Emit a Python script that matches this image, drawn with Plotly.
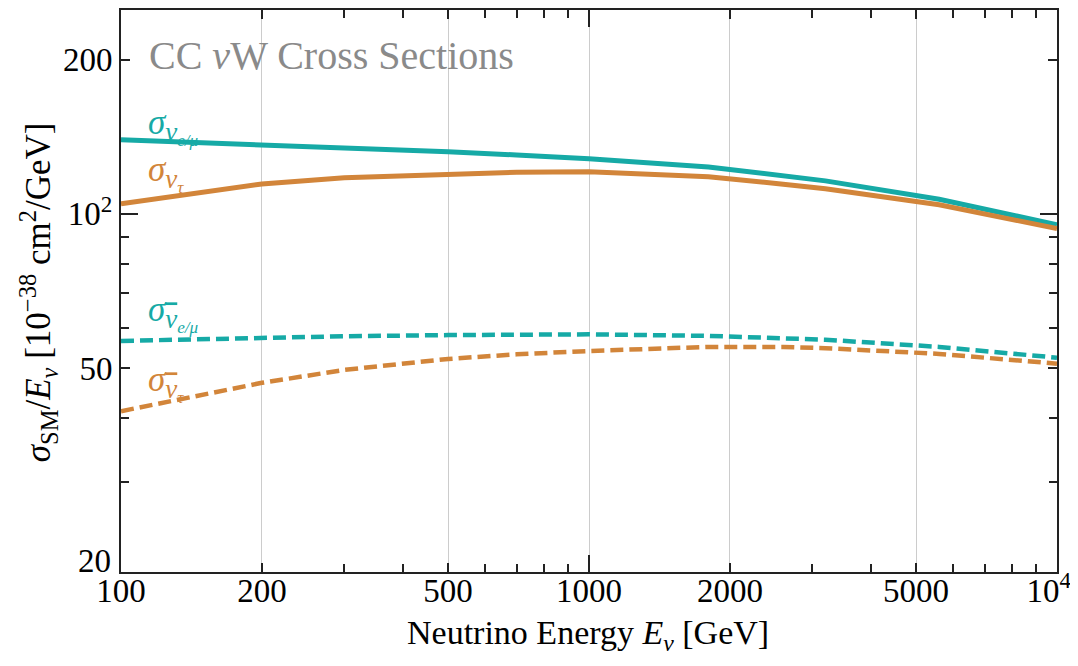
import plotly.graph_objects as go
import numpy as np

# Energies (GeV) and cross sections sigma/E [1e-38 cm^2/GeV]
E_nu = [100, 150, 200, 300, 500, 700, 1000, 1800, 2600, 3200, 5600, 10000]
sig_nu_emu = [139.5, 137.7, 136.4, 134.5, 132.2, 130.3, 128.1, 123.5, 118.8, 116.0, 106.8, 95.2]
sig_nu_tau = [104.6, 110.5, 114.4, 117.6, 119.8, 120.6, 120.8, 118.2, 114.3, 112.0, 104.2, 93.6]

E_nubar = [100, 150, 200, 300, 500, 700, 1000, 1800, 2600, 3200, 5600, 10000]
sig_nubar_emu = [56.5, 57.0, 57.3, 57.7, 58.0, 58.2, 58.2, 57.8, 57.3, 56.8, 55.0, 52.4]
sig_nubar_tau = [41.2, 44.5, 46.8, 49.6, 52.1, 53.2, 54.0, 55.0, 55.0, 54.7, 53.3, 51.0]

x_major = [100, 200, 500, 1000, 2000, 5000, 10000]
x_major_text = ["100", "200", "500", "1000", "2000", "5000", "10<sup>4</sup>\u00a0\u00a0"]
x_minor = [300, 400, 600, 700, 800, 900, 3000, 4000, 6000, 7000, 8000, 9000]
x_decade = [100, 1000, 10000]
y_major = [20, 50, 100, 200]
y_major_text = ["", "50", "10<sup>2</sup>", "200"]   # "20" drawn slightly raised, as in the original
y_bottom_label = "20"
y_minor = [30, 40, 60, 70, 80, 90]
y_decade = [100]

teal = "#16aaa6"
orange = "#d2853a"
font = "Liberation Serif"

fig = go.Figure()
fig.add_trace(go.Scatter(x=E_nu, y=sig_nu_emu, mode="lines", line=dict(color=teal, width=5), showlegend=False))
fig.add_trace(go.Scatter(x=E_nu, y=sig_nu_tau, mode="lines", line=dict(color=orange, width=5), showlegend=False))
fig.add_trace(go.Scatter(x=E_nubar, y=sig_nubar_emu, mode="lines", line=dict(color=teal, width=4.5, dash="13px,6px"), showlegend=False))
fig.add_trace(go.Scatter(x=E_nubar, y=sig_nubar_tau, mode="lines", line=dict(color=orange, width=4.5, dash="13px,6px"), showlegend=False))
# dummy trace for decade-tick overlay axes
fig.add_trace(go.Scatter(x=[None], y=[None], xaxis="x2", yaxis="y2", showlegend=False, hoverinfo="skip"))

xr = [2, 4]
yr = [np.log10(20), np.log10(250)]

# page body has an 8px margin: size the figure so it fits the 1078x666 window
fig.update_layout(
    width=1062, height=650,
    margin=dict(l=113, r=13, t=2, b=86),
    paper_bgcolor="white", plot_bgcolor="white",
    font=dict(family=font, size=33, color="black"),
    xaxis=dict(type="log", range=xr, tickvals=x_major, ticktext=x_major_text, automargin=False,
               ticks="inside", ticklen=9, tickwidth=1.5, tickcolor="#222", ticklabelstandoff=-12,
               ticklabeloverflow="allow",
               showline=True, linecolor="#222", linewidth=2, mirror="ticks",
               showgrid=True, gridcolor="#cccccc", gridwidth=1.2, zeroline=False,
               tickfont=dict(size=33),
               minor=dict(tickvals=x_minor, ticks="inside", ticklen=8, tickwidth=1.5, tickcolor="#222", showgrid=False)),
    yaxis=dict(type="log", range=yr, tickvals=y_major, ticktext=y_major_text, automargin=False,
               ticks="inside", ticklen=9, tickwidth=1.5, tickcolor="#222", ticklabeloverflow="allow",
               showline=True, linecolor="#222", linewidth=2, mirror="ticks",
               showgrid=False, zeroline=False, tickfont=dict(size=33),
               minor=dict(tickvals=y_minor, ticks="inside", ticklen=8, tickwidth=1.5, tickcolor="#222", showgrid=False)),
    xaxis2=dict(type="log", range=xr, overlaying="x", tickvals=x_decade, ticks="inside", ticklen=17, automargin=False,
                tickwidth=1.5, tickcolor="#222", showticklabels=False, showgrid=False, mirror="ticks",
                showline=False, zeroline=False, side="bottom"),
    yaxis2=dict(type="log", range=yr, overlaying="y", tickvals=y_decade, ticks="inside", ticklen=17, automargin=False,
                tickwidth=1.5, tickcolor="#222", showticklabels=False, showgrid=False, mirror="ticks",
                showline=False, zeroline=False, side="left"),
)

lab_x = 2 + (146 - 121) / 468
bar_nu = "<span style='font-size:27px;text-decoration:overline'>ν</span>"
ann = [
    dict(x=2 + (147 - 121) / 468, y=2 + (213 - 55) / 511.6, text="CC <i>ν</i>W Cross Sections",
         font=dict(size=40, color="#8a8a8a")),
    dict(x=lab_x, y=2 + (213 - 126) / 511.6,
         text="<i>σ</i><sub><i><span style='font-size:27px'>ν</span><sub>e/μ</sub></i></sub>", font=dict(size=35, color=teal)),
    dict(x=lab_x, y=2 + (213 - 173) / 511.6,
         text="<i>σ</i><sub><i><span style='font-size:27px'>ν</span><sub>τ</sub></i></sub>", font=dict(size=35, color=orange)),
    dict(x=lab_x, y=2 + (213 - 312) / 511.6,
         text="<i>σ</i><sub><i>" + bar_nu + "<sub>e/μ</sub></i></sub>", font=dict(size=35, color=teal)),
    dict(x=lab_x, y=2 + (213 - 382) / 511.6,
         text="<i>σ</i><sub><i>" + bar_nu + "<sub>τ</sub></i></sub>", font=dict(size=35, color=orange)),
]
for a in ann:
    a.update(xref="x", yref="y", showarrow=False, xanchor="left", yanchor="middle")
    fig.add_annotation(**a)

fig.add_annotation(xref="paper", yref="paper", x=(113 - 121) / 936, y=(572 - 561) / 562.5, yanchor="middle", xanchor="right",
                   text=y_bottom_label, showarrow=False, font=dict(size=33))
fig.add_annotation(xref="paper", yref="paper", x=(588 - 121) / 936, y=-86 / 562.5, yanchor="bottom", xanchor="center",
                   text="Neutrino Energy <i>E<sub>ν</sub></i> [GeV]", showarrow=False, font=dict(size=34))
fig.add_annotation(xref="paper", yref="paper", x=(38 - 121) / 936, y=(572 - 292) / 562.5, yanchor="middle", xanchor="center",
                   textangle=-90,
                   text="<i>σ</i><sub>SM</sub>/<i>E<sub>ν</sub></i> [10<sup>−38</sup> cm<sup>2</sup>/GeV]",
                   showarrow=False, font=dict(size=35))

fig.write_html("out.html")
